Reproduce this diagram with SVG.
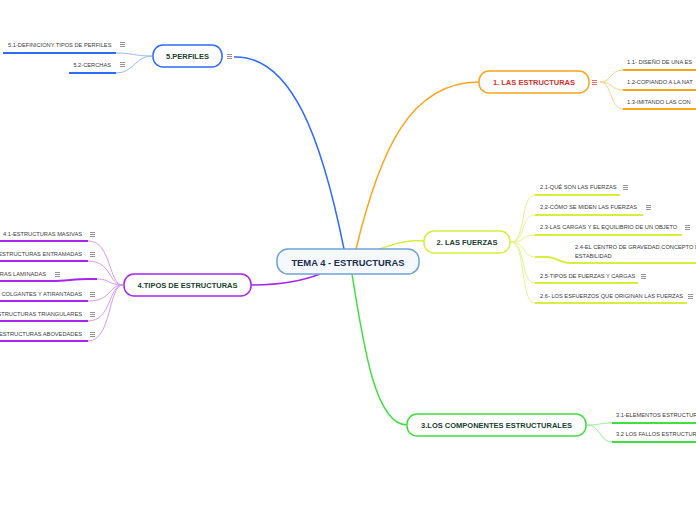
<svg xmlns="http://www.w3.org/2000/svg" xmlns:xlink="http://www.w3.org/1999/xlink" width="696" height="520" viewBox="0 0 696 520">
<style>
.node{fill:#fff;stroke-width:1.5}
.lbl{font-family:"Liberation Sans",Arial,sans-serif;font-weight:bold;font-size:7.5px;fill:#173f2e;text-anchor:middle;dominant-baseline:central}
.sub{font-family:"Liberation Sans",Arial,sans-serif;font-size:5.7px;fill:#3a3a3a}
.end{text-anchor:end}
.main{fill:none;stroke-width:1.5}
.thin{fill:none;stroke-width:1}
.ul{fill:none;stroke-width:2}
.menu{stroke:#666;stroke-width:0.7;fill:none}
</style>
<defs>
<g id="menu"><path d="M0,0.5h5M0,2.5h5M0,4.5h5"/></g>
</defs>

<g id="connectors">
<path class="main" stroke="#2f6bff" d="M234,57 C292,55 322,140 344,249"/>
<path class="main" stroke="#ffa41b" d="M356,249 C380,150 410,82 479,82"/>
<path class="main" stroke="#d6ef3c" d="M379,249 C398,243 405,240 424,241"/>
<path class="main" stroke="#a724f2" d="M320,274 C300,282 272,285 251,285"/>
<path class="main" stroke="#3ee03e" d="M352,274 C364,350 376,425 407,425"/>
<path class="thin" stroke="#9db8ff" d="M152,56 C135,56 132,53 116,53"/>
<path class="thin" stroke="#9db8ff" d="M152,56 C135,56 134,73 116,73"/>
<path class="thin" stroke="#ffd08a" d="M600,82 C612,82 610,70 623,70"/>
<path class="thin" stroke="#ffd08a" d="M600,82 C612,82 612,90 623,90"/>
<path class="thin" stroke="#ffd08a" d="M600,82 C612,82 610,109 623,109"/>
<path class="thin" stroke="#e6f58a" d="M511,242 C526,242 520,195 535,195"/>
<path class="thin" stroke="#e6f58a" d="M511,242 C526,242 520,215 535,215"/>
<path class="thin" stroke="#e6f58a" d="M511,242 C526,242 522,235 535,235"/>
<path class="thin" stroke="#e6f58a" d="M511,242 C526,242 522,257 535,257"/>
<path class="thin" stroke="#e6f58a" d="M511,242 C526,242 520,283 535,283"/>
<path class="thin" stroke="#e6f58a" d="M511,242 C526,242 520,303 535,303"/>
<path class="thin" stroke="#9af09a" d="M587,425 C600,425 600,423 612,423"/>
<path class="thin" stroke="#9af09a" d="M587,425 C600,425 600,442 612,442"/>
<path class="thin" stroke="#d39cf7" d="M123,285 C108,285 112,241 88,241"/>
<path class="thin" stroke="#d39cf7" d="M123,285 C108,285 112,261 88,261"/>
<path class="thin" stroke="#d39cf7" d="M123,285 C108,285 110,279 97,279"/>
<path class="thin" stroke="#d39cf7" d="M123,285 C108,285 112,301 88,301"/>
<path class="thin" stroke="#d39cf7" d="M123,285 C108,285 112,321 88,321"/>
<path class="thin" stroke="#d39cf7" d="M123,285 C108,285 112,341 88,341"/>
</g>

<g id="center">
<rect x="277" y="249" width="142" height="25" rx="11" fill="#f5f9fd" stroke="#6fa3d8" stroke-width="1.5"/>
<text x="348" y="262" class="lbl" style="font-size:9.4px;fill:#1c2d4f">TEMA 4 - ESTRUCTURAS</text>
</g>

<g id="perfiles">
<rect class="node" x="153" y="45" width="69" height="22" rx="10" stroke="#2f6bff"/>
<text x="187.5" y="56" class="lbl">5.PERFILES</text>
<use href="#menu" x="227" y="54" class="menu"/>
</g>
<g id="p51">
<text x="8" y="47" class="sub">5.1-DEFINICIONY TIPOS DE PERFILES</text>
<use href="#menu" x="120" y="42" class="menu"/>
<path class="ul" stroke="#2f6bff" d="M3,53H116"/>
</g>
<g id="p52">
<text x="111" y="66.5" class="sub end">5.2-CERCHAS</text>
<use href="#menu" x="120" y="62" class="menu"/>
<path class="ul" stroke="#2f6bff" d="M69,73H116"/>
</g>

<g id="estructuras">
<rect class="node" x="479" y="71" width="110" height="22" rx="10" stroke="#ffa41b"/>
<text x="534" y="82" class="lbl" style="fill:#d3302c">1. LAS ESTRUCTURAS</text>
<use href="#menu" x="592" y="80" class="menu" style="stroke:#d3302c"/>
</g>
<g id="e11">
<text x="627" y="64" class="sub">1.1- DISEÑO DE UNA ES</text>
<path class="ul" stroke="#ffa41b" d="M623,70H696"/>
</g>
<g id="e12">
<text x="627" y="84" class="sub">1.2-COPIANDO A LA NAT</text>
<path class="ul" stroke="#ffa41b" d="M623,90H696"/>
</g>
<g id="e13">
<text x="627" y="104" class="sub">1.3-IMITANDO LAS CON</text>
<path class="ul" stroke="#ffa41b" d="M623,109H696"/>
</g>

<g id="fuerzas">
<rect class="node" x="424" y="231" width="86" height="22" rx="10" stroke="#d6ef3c"/>
<text x="467" y="242" class="lbl">2. LAS FUERZAS</text>
</g>
<g id="f21">
<text x="540" y="189" class="sub">2.1-QUÉ SON LAS FUERZAS</text>
<use href="#menu" x="623" y="185" class="menu"/>
<path class="ul" stroke="#d6ef3c" d="M535,195H620"/>
</g>
<g id="f22">
<text x="540" y="209" class="sub">2,2-CÓMO SE MIDEN LAS FUERZAS</text>
<use href="#menu" x="646" y="205" class="menu"/>
<path class="ul" stroke="#d6ef3c" d="M535,215H643"/>
</g>
<g id="f23">
<text x="540" y="229" class="sub">2.3-LAS CARGAS Y EL EQUILIBRIO DE UN OBJETO</text>
<use href="#menu" x="685" y="225" class="menu"/>
<path class="ul" stroke="#d6ef3c" d="M535,235H682"/>
</g>
<g id="f24">
<text x="575" y="249" class="sub">2.4-EL CENTRO DE GRAVEDAD,CONCEPTO D</text>
<text x="575" y="258" class="sub">ESTABILIDAD</text>
<path class="ul" stroke="#d6ef3c" d="M535,257H547 C556,257 560,263 570,263H696"/>
</g>
<g id="f25">
<text x="540" y="278" class="sub">2.5-TIPOS DE FUERZAS Y CARGAS</text>
<use href="#menu" x="641" y="274" class="menu"/>
<path class="ul" stroke="#d6ef3c" d="M535,283H638"/>
</g>
<g id="f26">
<text x="540" y="298" class="sub">2.6- LOS ESFUERZOS QUE ORIGINAN LAS FUERZAS</text>
<use href="#menu" x="688" y="294" class="menu"/>
<path class="ul" stroke="#d6ef3c" d="M535,303H687"/>
</g>

<g id="componentes">
<rect class="node" x="407" y="414" width="179" height="22" rx="10" stroke="#3ee03e"/>
<text x="496.5" y="425" class="lbl">3.LOS COMPONENTES ESTRUCTURALES</text>
</g>
<g id="c31">
<text x="616" y="417" class="sub">3.1-ELEMENTOS ESTRUCTUR</text>
<path class="ul" stroke="#3ee03e" d="M612,423H696"/>
</g>
<g id="c32">
<text x="616" y="436" class="sub">3.2 LOS FALLOS ESTRUCTURA</text>
<path class="ul" stroke="#3ee03e" d="M612,442H696"/>
</g>

<g id="tipos">
<rect class="node" x="124" y="274" width="127" height="22" rx="10" stroke="#a724f2"/>
<text x="187.5" y="285" class="lbl">4.TIPOS DE ESTRUCTURAS</text>
</g>
<g id="t41">
<text x="82" y="236" class="sub end">4.1-ESTRUCTURAS MASIVAS</text>
<use href="#menu" x="90" y="232" class="menu"/>
<path class="ul" stroke="#a724f2" d="M0,241H88"/>
</g>
<g id="t42">
<text x="82" y="256" class="sub end">ESTRUCTURAS ENTRAMADAS</text>
<use href="#menu" x="90" y="252" class="menu"/>
<path class="ul" stroke="#a724f2" d="M0,261H88"/>
</g>
<g id="t43">
<text x="46" y="276" class="sub end">RAS LAMINADAS</text>
<use href="#menu" x="55" y="272" class="menu"/>
<path class="ul" stroke="#a724f2" d="M0,281H52 C66,281 74,279 88,279H97"/>
</g>
<g id="t44">
<text x="82" y="296" class="sub end">COLGANTES Y ATIRANTADAS</text>
<use href="#menu" x="90" y="292" class="menu"/>
<path class="ul" stroke="#a724f2" d="M0,301H88"/>
</g>
<g id="t45">
<text x="82" y="316" class="sub end">STRUCTURAS TRIANGULARES</text>
<use href="#menu" x="90" y="312" class="menu"/>
<path class="ul" stroke="#a724f2" d="M0,321H88"/>
</g>
<g id="t46">
<text x="82" y="336" class="sub end">ESTRUCTURAS ABOVEDADES</text>
<use href="#menu" x="90" y="332" class="menu"/>
<path class="ul" stroke="#a724f2" d="M0,341H88"/>
</g>
</svg>
